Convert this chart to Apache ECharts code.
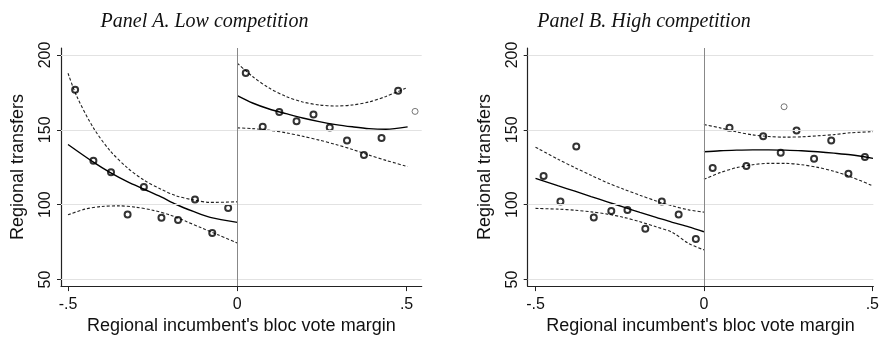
<!DOCTYPE html>
<html>
<head>
<meta charset="utf-8">
<script src="https://cdn.jsdelivr.net/npm/echarts@6/dist/echarts.min.js"></script>
<style>
html,body{margin:0;padding:0;background:#fff;}
#chart{width:882px;height:340px;}
</style>
</head>
<body>
<div id="chart"></div>
<script>
// ---------- DATA ----------
const titles = ['Panel A. Low competition', 'Panel B. High competition'];
const xTitle = "Regional incumbent's bloc vote margin";
const yTitle = 'Regional transfers';
const xTickValues = [-0.5, 0, 0.5];
const xTickLabels = ['-.5', '0', '.5'];
const yTickValues = [50, 100, 150, 200];
const yTickLabels = ['50', '100', '150', '200'];

// Panel A binned means
const xA = [-0.479,-0.425,-0.373,-0.324,-0.276,-0.224,-0.175,-0.125,-0.074,-0.027,0.025,0.075,0.124,0.175,0.225,0.273,0.324,0.374,0.426,0.475];
const yA = [176.7,129.4,121.6,93.5,111.8,91.2,89.7,103.4,81.1,97.7,188.0,152.0,161.9,155.7,160.3,151.5,142.9,133.1,144.6,176.1];
const xAextra = [0.525];
const yAextra = [162.3];

// Panel A fitted lines, left of cutoff
const xAfitL = [-0.5,-0.425,-0.375,-0.325,-0.275,-0.225,-0.18,-0.13,-0.08,0];
const yAfitL = [140.2,128.4,121.4,115.4,110.3,105.2,100.1,95.5,91.5,88.2];
const xAupL = [-0.5,-0.474,-0.425,-0.375,-0.325,-0.275,-0.225,-0.18,-0.13,-0.08,0];
const yAupL = [187.8,172.3,151.3,135.8,124.7,116.3,110.3,105.9,103.2,101.5,101.9];
const xAloL = [-0.5,-0.45,-0.4,-0.35,-0.3,-0.25,-0.2,-0.155,-0.105,-0.055,0];
const yAloL = [93.2,97.0,98.8,99.2,98.3,96.3,93.2,89.2,84.4,79.7,74.4];
// Panel A fitted lines, right of cutoff
const xAR = [0,0.045,0.094,0.144,0.193,0.242,0.291,0.340,0.389,0.439,0.503];
const yAfitR = [172.8,167.9,163.9,160.8,157.9,155.5,153.5,152.0,150.8,150.4,152.0];
const yAupR = [194.5,185.6,177.9,172.3,168.6,166.6,165.9,166.6,168.6,172.3,178.3];
const yAloR = [151.3,150.8,149.7,148.0,145.7,143.1,140.2,136.9,133.1,129.6,125.4];

// Panel B binned means
const xB = [-0.476,-0.426,-0.379,-0.327,-0.275,-0.227,-0.174,-0.125,-0.075,-0.024,0.026,0.076,0.126,0.176,0.228,0.275,0.327,0.378,0.429,0.478];
const yB = [119.1,102.1,138.9,91.5,95.7,96.5,83.9,102.1,93.5,77.1,124.5,151.3,125.8,145.7,134.7,149.5,130.7,142.9,120.7,131.8];
const xBextra = [0.238];
const yBextra = [165.4];

// Panel B fitted lines, left of cutoff
const xBL = [-0.5,-0.432,-0.383,-0.335,-0.287,-0.238,-0.19,-0.142,-0.094,-0.045,0];
const yBfitL = [117.6,112.5,109.0,105.4,101.9,98.3,94.8,91.5,88.2,85.2,81.9];
const yBupL = [138.4,130.2,124.7,119.6,114.7,110.3,106.3,102.5,99.2,96.5,95.0];
const yBloL = [97.5,97.0,96.3,95.2,93.7,91.5,88.6,85.2,81.5,74.0,69.8];
// Panel B fitted lines, right of cutoff
const xBR = [0,0.048,0.097,0.145,0.193,0.241,0.29,0.338,0.386,0.435,0.502];
const yBfitR = [135.3,136.0,136.4,136.6,136.6,136.4,136.0,135.3,134.4,133.3,130.9];
const yBupR = [153.5,151.3,148.6,146.6,145.5,145.1,145.3,146.0,146.8,148.0,148.8];
const yBloR = [116.9,121.4,124.7,126.7,127.6,127.6,126.7,124.9,122.3,118.7,112.5];

// ---------- CHART ----------
const SANS = "'Liberation Sans', Arial, Helvetica, sans-serif";
const SERIF = "'Liberation Serif', 'Times New Roman', serif";
const zip = (xs, ys) => xs.map((x, i) => [x, ys[i]]);
const xLab = v => { const i = xTickValues.findIndex(t => Math.abs(t - v) < 1e-9); return i >= 0 ? xTickLabels[i] : ''; };
const yLab = v => { const i = yTickValues.findIndex(t => Math.abs(t - v) < 1e-9); return i >= 0 ? yTickLabels[i] : ''; };

const yMin = 45.6, yMax = 204.65;
const xRanges = [[-0.5207, 0.5446], [-0.5232, 0.503]];

function makeX(g) {
  return {
    type: 'value', gridIndex: g, min: xRanges[g][0], max: xRanges[g][1],
    name: xTitle, nameLocation: 'middle', nameGap: 25,
    nameTextStyle: { fontFamily: SANS, fontSize: 18, color: '#111' },
    axisLine: { show: true, onZero: false, lineStyle: { color: '#222', width: 1.2 } },
    axisTick: { show: true, length: 5, customValues: xTickValues, lineStyle: { color: '#222' } },
    axisLabel: { customValues: xTickValues, formatter: xLab, fontFamily: SANS, fontSize: 16, color: '#111', margin: 10 },
    splitLine: { show: false }
  };
}
function makeY(g) {
  return {
    type: 'value', gridIndex: g, min: yMin, max: yMax,
    name: yTitle, nameLocation: 'middle', nameGap: 34, nameRotate: 90,
    nameTextStyle: { fontFamily: SANS, fontSize: 18, color: '#111' },
    axisLine: { show: true, onZero: false, lineStyle: { color: '#222', width: 1.2 } },
    axisTick: { show: true, length: 4, customValues: yTickValues, lineStyle: { color: '#222' } },
    axisLabel: { customValues: yTickValues, formatter: yLab, rotate: 90, fontFamily: SANS, fontSize: 16, color: '#111', margin: 7 },
    splitLine: { show: false }
  };
}

function guideSeries(g) {
  return {
    type: 'scatter', xAxisIndex: g, yAxisIndex: g, z: 1, silent: true,
    symbolSize: 0, data: [[0, 100]],
    markLine: {
      silent: true, symbol: 'none', label: { show: false }, animation: false,
      data: yTickValues.map(v => ({ yAxis: v, lineStyle: { color: '#e2e2e2', width: 1.2, type: 'solid' } }))
        .concat([{ xAxis: 0, lineStyle: { color: '#888', width: 1, type: 'solid' } }])
    }
  };
}
function lineSeries(g, data, dashed) {
  return {
    type: 'line', xAxisIndex: g, yAxisIndex: g, z: 2, data: data,
    smooth: 0.3, symbol: 'none', silent: true,
    lineStyle: dashed ? { color: '#222', width: 1.1, type: [3, 2] } : { color: '#000', width: 1.4 }
  };
}
function dotSeries(g, data, light) {
  return {
    type: 'scatter', xAxisIndex: g, yAxisIndex: g, z: 3, data: data, symbol: 'circle',
    symbolSize: 6, silent: true,
    itemStyle: light ? { color: 'rgba(0,0,0,0)', borderColor: '#555', borderWidth: 1 }
                     : { color: 'rgba(0,0,0,0)', borderColor: '#000', borderWidth: 2 }
  };
}

const series = [
  guideSeries(0), guideSeries(1),
  lineSeries(0, zip(xAfitL, yAfitL), false),
  lineSeries(0, zip(xAupL, yAupL), true),
  lineSeries(0, zip(xAloL, yAloL), true),
  lineSeries(0, zip(xAR, yAfitR), false),
  lineSeries(0, zip(xAR, yAupR), true),
  lineSeries(0, zip(xAR, yAloR), true),
  lineSeries(1, zip(xBL, yBfitL), false),
  lineSeries(1, zip(xBL, yBupL), true),
  lineSeries(1, zip(xBL, yBloL), true),
  lineSeries(1, zip(xBR, yBfitR), false),
  lineSeries(1, zip(xBR, yBupR), true),
  lineSeries(1, zip(xBR, yBloR), true),
  dotSeries(0, zip(xA, yA), false),
  dotSeries(0, zip(xAextra, yAextra), true),
  dotSeries(1, zip(xB, yB), false),
  dotSeries(1, zip(xBextra, yBextra), true)
];

const chart = echarts.init(document.getElementById('chart'), null, { renderer: 'canvas' });
chart.setOption({
  animation: false,
  backgroundColor: '#ffffff',
  grid: [
    { left: 61, top: 48, width: 360.7, height: 239.3 },
    { left: 527.7, top: 48, right: 0, height: 239.3 }
  ],
  xAxis: [makeX(0), makeX(1)],
  yAxis: [makeY(0), makeY(1)],
  graphic: [
    { type: 'text', x: 204.5, y: 22,
      style: { text: titles[0], font: 'italic 20px ' + SERIF, fill: '#111', textAlign: 'center', textVerticalAlign: 'middle' } },
    { type: 'text', x: 644, y: 22,
      style: { text: titles[1], font: 'italic 20px ' + SERIF, fill: '#111', textAlign: 'center', textVerticalAlign: 'middle' } }
  ],
  series: series
});
</script>
</body>
</html>
